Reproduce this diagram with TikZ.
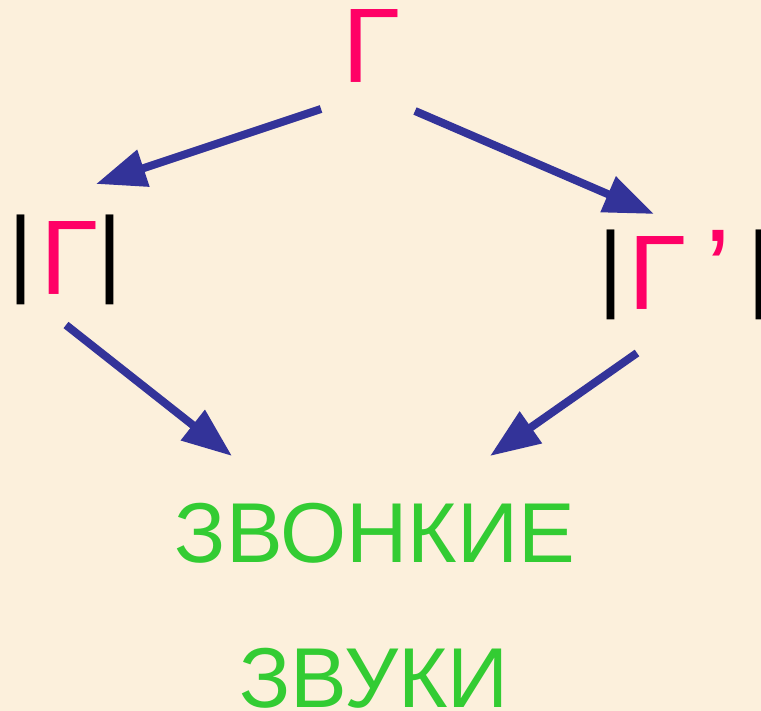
\documentclass[tikz,border=0pt]{standalone}
\usepackage{fontspec}
\setmainfont{Liberation Sans}
\usetikzlibrary{arrows.meta}

\definecolor{bgcol}{RGB}{252,240,220}
\definecolor{lettercol}{RGB}{255,0,102}
\definecolor{arrowcol}{RGB}{51,51,153}
\definecolor{wordcol}{RGB}{51,204,51}

% slash bars round the letter
\newcommand{\vbar}{\textcolor{black}{\raisebox{10pt}{\fontsize{96}{96}\selectfont|}}}

\begin{document}
\begin{tikzpicture}[x=1pt, y=-1pt, >={Triangle[length=50pt, width=37pt]},
    letter/.style={inner sep=0pt, anchor=base, text=lettercol, font=\fontsize{106}{106}\selectfont},
    word/.style={inner sep=0pt, anchor=base, text=wordcol, font=\fontsize{85}{85}\selectfont},
    link/.style={->, draw=arrowcol, fill=arrowcol, line width=8pt}]
    \useasboundingbox (0,0) rectangle (761,711);
    \fill[bgcol] (0,0) rectangle (761,711);

    \node[letter] (gTop) at (371,83) {Г};
    \node[letter] (gLeft) at (65.5,295) {\vbar\kern6.7pt Г\kern0.3pt\vbar};
    \node[letter] (gRight) at (685.5,310) {\vbar\kern5.7pt Г\kern19.3pt{\fontsize{115}{115}\selectfont’}\kern16.5pt\vbar};

    \node[word] (voiced) at (375,562) {ЗВОНКИЕ};
    \node[word] (sounds) at (374,707) {ЗВУКИ};

    \draw[link] ([shift={(-50,26)}]gTop.base) -- ([shift={(30.5,-111)}]gLeft.base);
    \draw[link] ([shift={(44,28)}]gTop.base) -- ([shift={(-31.5,-96)}]gRight.base);
    \draw[link] ([shift={(0.5,30)}]gLeft.base) -- ([shift={(-143,-106)}]voiced.base);
    \draw[link] ([shift={(-48.5,43)}]gRight.base) -- ([shift={(115,-106)}]voiced.base);
\end{tikzpicture}
\end{document}
